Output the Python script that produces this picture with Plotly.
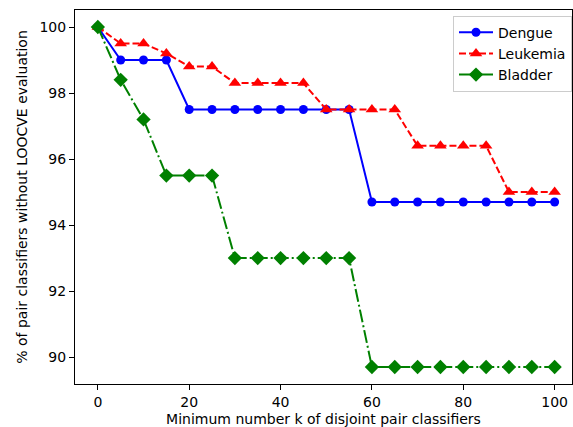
import plotly.graph_objects as go

k = [0, 5, 10, 15, 20, 25, 30, 35, 40, 45, 50, 55, 60, 65, 70, 75, 80, 85, 90, 95, 100]
dengue = [100, 99.0, 99.0, 99.0, 97.5, 97.5, 97.5, 97.5, 97.5, 97.5, 97.5, 97.5,
          94.7, 94.7, 94.7, 94.7, 94.7, 94.7, 94.7, 94.7, 94.7]
leukemia = [100, 99.5, 99.5, 99.2, 98.8, 98.8, 98.3, 98.3, 98.3, 98.3, 97.5, 97.5,
            97.5, 97.5, 96.4, 96.4, 96.4, 96.4, 95.0, 95.0, 95.0]
bladder = [100, 98.4, 97.2, 95.5, 95.5, 95.5, 93.0, 93.0, 93.0, 93.0, 93.0, 93.0,
           89.7, 89.7, 89.7, 89.7, 89.7, 89.7, 89.7, 89.7, 89.7]

FONT = "DejaVu Sans"
FS = 14
fig = go.Figure()
fig.add_trace(go.Scatter(x=k, y=dengue, name="Dengue", mode="lines+markers",
                         line=dict(color="#0000ff", width=2),
                         marker=dict(symbol="circle", size=9, color="#0000ff")))
fig.add_trace(go.Scatter(x=k, y=leukemia, name="Leukemia", mode="lines+markers",
                         line=dict(color="#ff0000", width=2, dash="7px,3px"),
                         marker=dict(symbol="triangle-up", size=11, color="#ff0000")))
fig.add_trace(go.Scatter(x=k, y=bladder, name="Bladder", mode="lines+markers",
                         line=dict(color="#008000", width=2, dash="13px,3px,2px,3px"),
                         marker=dict(symbol="diamond", size=11, color="#008000")))

axis_common = dict(showline=True, linecolor="black", linewidth=1.1, mirror=True,
                   ticks="outside", ticklen=5, tickwidth=1.1, tickcolor="black",
                   showgrid=False, zeroline=False,
                   tickfont=dict(family=FONT, size=FS, color="black"))
fig.update_xaxes(range=[-5, 103.8], tickvals=[0, 20, 40, 60, 80, 100],
                 title=dict(text="Minimum number k of disjoint pair classifiers",
                            font=dict(family=FONT, size=FS, color="black"), standoff=6),
                 **axis_common)
fig.update_yaxes(range=[89.185, 100.515], tickvals=[90, 92, 94, 96, 98, 100],
                 title=dict(text="% of pair classifiers without LOOCVE evaluation",
                            font=dict(family=FONT, size=FS, color="black"), standoff=8),
                 **axis_common)
fig.update_layout(width=573, height=427, margin=dict(l=75, r=1, t=10, b=43),
                  paper_bgcolor="white", plot_bgcolor="white",
                  font=dict(family=FONT, size=FS, color="black"),
                  legend=dict(x=1.0, y=0.985, xanchor="right", yanchor="top",
                              bgcolor="rgba(255,255,255,0.8)", bordercolor="#cccccc",
                              borderwidth=1, font=dict(family=FONT, size=FS),
                              itemwidth=34, tracegroupgap=0))
fig.write_html("out.html")
